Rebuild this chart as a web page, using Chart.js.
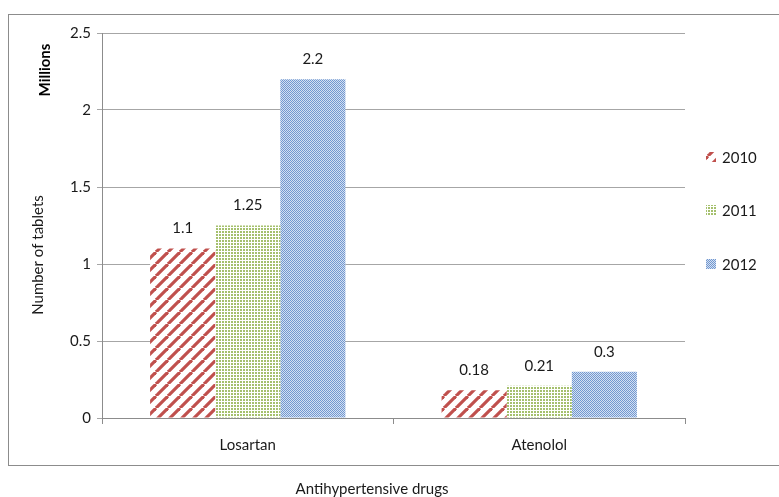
<!DOCTYPE html>
<html>
<head>
<meta charset="utf-8">
<script src="https://cdn.jsdelivr.net/npm/chart.js@4/dist/chart.umd.min.js"></script>
<style>
  html, body { margin: 0; padding: 0; background: #fff; }
  #wrap { width: 779px; height: 497px; }
</style>
</head>
<body>
<div id="wrap"><canvas id="chart" width="779" height="497"></canvas></div>
<script>
// data
const drugs = ['Losartan', 'Atenolol'];
const years = ['2010', '2011', '2012'];
const tablets2010 = [1.1, 0.18];
const tablets2011 = [1.25, 0.21];
const tablets2012 = [2.2, 0.3];
const yTicks = [0, 0.5, 1, 1.5, 2, 2.5];

const FONT = 'Lato, "Open Sans", sans-serif';

// fill patterns
function makePattern(kind) {
    const c = document.createElement('canvas');
    const g = c.getContext('2d');
    if (kind === 'stripes') {
        c.width = 12; c.height = 12;
        g.fillStyle = '#ffffff';
        g.fillRect(0, 0, 12, 12);
        g.strokeStyle = '#c0504d';
        g.lineWidth = 3.2;
        for (let o = -12; o <= 24; o += 12) {
            g.beginPath();
            g.moveTo(o, 12);
            g.lineTo(o + 12, 0);
            g.stroke();
        }
    } else if (kind === 'dots') {
        c.width = 3; c.height = 3;
        g.fillStyle = '#ffffff';
        g.fillRect(0, 0, 3, 3);
        g.fillStyle = '#a5c06d';
        g.fillRect(0, 0, 2, 2);
    } else {
        c.width = 2; c.height = 2;
        g.fillStyle = '#d4e0f2';
        g.fillRect(0, 0, 2, 2);
        g.fillStyle = '#7298d0';
        g.fillRect(0, 0, 1, 1);
        g.fillRect(1, 1, 1, 1);
    }
    return g.createPattern(c, 'repeat');
}

const ctx = document.getElementById('chart').getContext('2d');
const fills = [makePattern('stripes'), makePattern('dots'), makePattern('checks')];

// texts, legend, labels, frame
const decorPlugin = {
    id: 'decor',
    afterDraw(chart) {
        const c = chart.ctx;
        c.save();
        // outer frame
        c.strokeStyle = '#8c8c8c';
        c.lineWidth = 1;
        c.strokeRect(8.5, 14.5, 790, 451);

        // value labels
        c.fillStyle = '#1a1a1a';
        c.font = '15px ' + FONT;
        c.textAlign = 'center';
        c.textBaseline = 'middle';
        chart.data.datasets.forEach((ds, i) => {
            chart.getDatasetMeta(i).data.forEach((bar, j) => {
                c.fillText(String(ds.data[j]), bar.x, bar.y - 20);
            });
        });

        // axis titles
        c.save();
        c.translate(45, 70);
        c.rotate(-Math.PI / 2);
        c.font = 'bold 15px ' + FONT;
        c.fillStyle = '#000';
        c.fillText('Millions', 0, 0);
        c.restore();

        c.save();
        c.translate(38, 255);
        c.rotate(-Math.PI / 2);
        c.font = '15px ' + FONT;
        c.fillText('Number of tablets', 0, 0);
        c.restore();

        c.font = '15px ' + FONT;
        c.fillText('Antihypertensive drugs', 372, 489);

        // legend
        const ly = [157, 210, 264];
        c.textAlign = 'left';
        years.forEach((y, i) => {
            c.fillStyle = fills[i];
            c.fillRect(706, ly[i] - 5, 10, 10);
            c.fillStyle = '#1a1a1a';
            c.fillText(y, 722, ly[i] + 1);
        });
        c.restore();
    }
};

new Chart(ctx, {
    type: 'bar',
    data: {
        labels: drugs,
        datasets: [
            { label: years[0], data: tablets2010, backgroundColor: fills[0] },
            { label: years[1], data: tablets2011, backgroundColor: fills[1] },
            { label: years[2], data: tablets2012, backgroundColor: fills[2] }
        ]
    },
    options: {
        responsive: false,
        animation: false,
        layout: { padding: { left: 0, right: 94, top: 33, bottom: 0 } },
        datasets: {
            bar: { barPercentage: 1, categoryPercentage: 0.67, borderWidth: 0 }
        },
        plugins: {
            legend: { display: false },
            tooltip: { enabled: false }
        },
        scales: {
            x: {
                afterFit(scale) { scale.height = 79; },
                grid: { drawOnChartArea: false, drawTicks: true, tickLength: 6, color: '#8c8c8c', offset: true },
                border: { display: true, color: '#8c8c8c' },
                ticks: { color: '#1a1a1a', font: { family: FONT, size: 15 }, padding: 12 }
            },
            y: {
                min: 0,
                max: 2.5,
                afterFit(scale) { scale.width = 102; },
                afterBuildTicks(scale) { scale.ticks = yTicks.map(v => ({ value: v })); },
                grid: { color: '#a6a6a6', tickLength: 5 },
                border: { display: true, color: '#8c8c8c' },
                ticks: {
                    color: '#1a1a1a',
                    font: { family: FONT, size: 15 },
                    padding: 6,
                    callback: v => String(v)
                }
            }
        }
    },
    plugins: [decorPlugin]
});
</script>
</body>
</html>
